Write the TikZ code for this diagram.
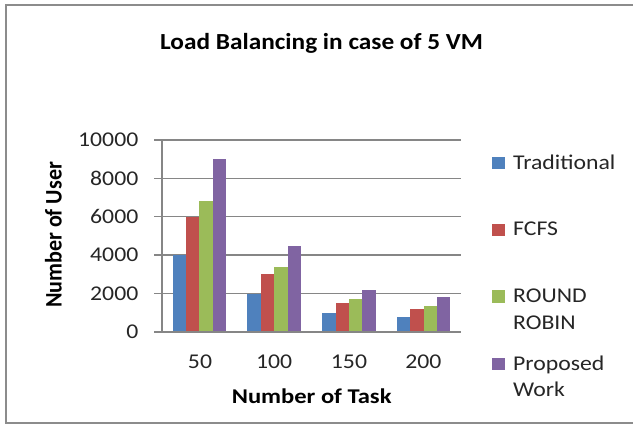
\documentclass[tikz,border=0pt]{standalone}
\usepackage{fontspec}
\setmainfont{Carlito}
\usepackage{graphicx}
% Chart text is set slightly wide
\newcommand{\wide}[1]{\scalebox{1.13}[1]{#1}}
\definecolor{frame}{HTML}{8C8C8C}
\definecolor{gridc}{HTML}{868686}
\definecolor{sblue}{HTML}{4F81BD}
\definecolor{sred}{HTML}{C0504D}
\definecolor{sgreen}{HTML}{9BBB59}
\definecolor{spurple}{HTML}{8064A2}
\begin{document}
\begin{tikzpicture}[x=1pt,y=-1pt,
  ticklabel/.style={inner sep=0pt, font=\fontsize{21}{25}\selectfont, text=black!85},
  axislabel/.style={inner sep=0pt, font=\fontsize{21}{25}\selectfont\bfseries},
  legendtext/.style={inner sep=0pt, anchor=base west, font=\fontsize{21}{25}\selectfont, text=black!85},
  gridline/.style={draw=gridc, line width=1.4pt},
  bar/.style={draw=none}]
\useasboundingbox (0,0) rectangle (633,425);
\fill[white] (0,0) rectangle (633,425);

% outer frame (open on the right)
\draw[frame, line width=2pt] (640,4.8) -- (5.8,4.8) -- (5.8,423.4) -- (640,423.4);

% title
\node[inner sep=0pt, anchor=base, font=\fontsize{23}{28}\selectfont\bfseries] (title) at (321.5,49.3) {\scalebox{1.1}[1]{Load Balancing in case of 5 VM}};

% gridlines, axis ticks and value labels
\foreach \v/\lab in {0/0,1/2000,2/4000,3/6000,4/8000,5/10000}{
  \pgfmathsetmacro{\yy}{332-38.4*\v}
  \draw[gridline] (154,\yy) -- (461,\yy);
  \node[ticklabel, anchor=east] (y\v) at (138.5,\yy) {\wide{\lab}};
}
% vertical axis
\draw[gridline] (162,140) -- (162,332.7);

% bars: category centre, then the four values
\foreach \c/\a/\b/\g/\p [count=\i] in {199.4/4000/6000/6800/9000, 274.1/2000/3000/3400/4500, 348.9/1000/1500/1700/2200, 423.6/800/1200/1350/1800}{
  \fill[sblue]   (\c-26.8,332) rectangle (\c-13.4,332-0.0192*\a);
  \fill[sred]    (\c-13.4,332) rectangle (\c,332-0.0192*\b);
  \fill[sgreen]  (\c,332) rectangle (\c+13.4,332-0.0192*\g);
  \fill[spurple] (\c+13.4,332) rectangle (\c+26.8,332-0.0192*\p);
}
% redraw the base line over the bars
\draw[gridline] (154,332) -- (461,332);

% category labels
\node[ticklabel, anchor=base] (x1) at (200,368.3) {\wide{50}};
\node[ticklabel, anchor=base] (x2) at (274.2,368.3) {\wide{100}};
\node[ticklabel, anchor=base] (x3) at (349,368.3) {\wide{150}};
\node[ticklabel, anchor=base] (x4) at (423.4,368.3) {\wide{200}};

% axis titles
\node[axislabel, anchor=base] (xlab) at (311.7,403.3) {\scalebox{1.17}[1]{Number of Task}};
\node[axislabel, anchor=base, rotate=90] (ylab) at (61.5,235) {\scalebox{1.05}[1.13]{Number of User}};

% legend
\foreach \col/\base [count=\k] in {sblue/169.3, sred/236, sgreen/302.7, spurple/370.5}{
  \fill[\col] (492.3,\base-12.2) rectangle (504.8,\base);
}
\node[legendtext] (l1) at (513,169.3) {\wide{Traditional}};
\node[legendtext] (l2) at (513,236) {\wide{FCFS}};
\node[legendtext] (l3a) at (513,302.7) {\wide{ROUND}};
\node[legendtext] (l3b) at (513,329.5) {\wide{ROBIN}};
\node[legendtext] (l4a) at (513,370.5) {\wide{Proposed}};
\node[legendtext] (l4b) at (513,396.5) {\wide{Work}};
\end{tikzpicture}
\end{document}
